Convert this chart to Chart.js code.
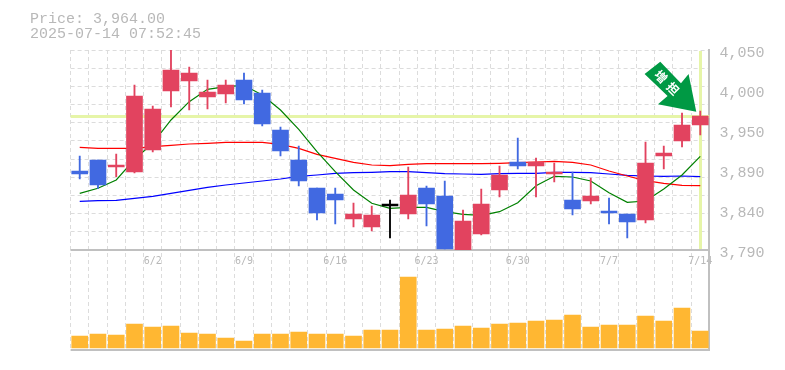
<!DOCTYPE html>
<html><head><meta charset="utf-8">
<script src="https://cdn.jsdelivr.net/npm/chart.js@4/dist/chart.umd.min.js"></script>
<style>
html,body{margin:0;padding:0;background:#fff;width:785px;height:370px;overflow:hidden}
#wrap{position:relative;width:785px;height:370px}
#head{position:absolute;left:30px;top:12px;font:15px/15px "Liberation Mono",monospace;font-weight:normal;color:#b8b8b8;white-space:pre}
</style></head><body>
<div id="wrap"><canvas id="c" width="785" height="370"></canvas>
<div id="head">Price: 3,964.00
2025-07-14 07:52:45</div></div>
<script>
const categories=['5/27','5/28','5/29','5/30','6/2','6/3','6/4','6/5','6/6','6/9','6/10','6/11','6/12','6/13','6/16','6/17','6/18','6/19','6/20','6/23','6/24','6/25','6/26','6/27','6/30','7/1','7/2','7/3','7/4','7/7','7/8','7/9','7/10','7/11','7/14'];
const opens=[3892.7,3907,3897.9,3891.4,3920,3996.7,4009.7,3988.9,3992.8,4011,3994.1,3946,3907,3870.6,3862.8,3830.3,3819.9,3847.2,3836.8,3870.6,3860.2,3790,3810.8,3868,3904.4,3899.2,3888.8,3855,3853.7,3840.7,3836.8,3829,3912.2,3931.7,3952.5];
const closes=[3888.8,3874.5,3900.5,3990.2,3973.3,4024,4020.1,3995.4,4004.5,3985,3953.8,3918.7,3879.7,3838.1,3855,3836.8,3835.5,3847.2,3861.5,3849.8,3791.3,3827.7,3849.8,3887.5,3899.2,3904.4,3891.4,3843.3,3860.2,3838.1,3826.4,3903.1,3916.1,3952.5,3964.2];
const highs=[3912,3907,3914.8,4004.5,3977.2,4050,4027.9,4011,4011,4020.1,3998,3949.9,3925.2,3870.6,3870.6,3851.1,3847.2,3855,3897.9,3873.2,3879.7,3842,3869.3,3899.2,3935.6,3909.6,3903.1,3891.4,3883.6,3857.6,3836.8,3930.4,3925.2,3968.1,3970.7];
const lows=[3882.3,3870.2,3885.3,3890.1,3917.4,3975.9,3972,3973.3,3981.1,3979.8,3951.2,3912.2,3873.2,3829,3823.8,3819.9,3814.7,3805.6,3830.3,3821.2,3791.3,3789,3809.5,3859,3895.3,3859,3878.4,3835.5,3849.8,3823.8,3805.6,3825.1,3895.3,3923.9,3939.5];
const maShort=[3863.7,3870.2,3881,3907.9,3928.7,3959,3982.8,3998.9,4002.3,4004.1,3991.5,3972,3946.9,3917.8,3891.8,3868,3850.7,3844.2,3845.5,3845.5,3839.8,3836.4,3835.1,3839.8,3851.5,3873.6,3885.8,3884.9,3879.7,3864.5,3852,3853.7,3869.3,3887.5,3911.8];
const maMid=[3923.5,3922.2,3922.2,3922.2,3924.3,3926.1,3927.8,3928.7,3930,3930,3930,3927.4,3922.2,3914.4,3909.2,3904,3900.5,3899.6,3901.4,3902.2,3902.2,3902.2,3902.2,3902.7,3903.5,3904.4,3905.3,3904,3900.5,3892.7,3886.2,3880.1,3876.7,3874.1,3873.6];
const maLong=[3853.3,3854.1,3854.6,3857.2,3859.8,3863.7,3867.6,3871.5,3874.5,3877.1,3879.7,3882.3,3885.8,3887.5,3889.7,3890.5,3891,3891.8,3891.8,3890.5,3889.2,3888.8,3888.4,3889.2,3889.7,3889.7,3891,3891,3890.5,3888.8,3887.1,3886.2,3885.8,3886.2,3885.3];
const volumes=[12000,14000,13000,24000,21000,22000,15000,14000,10000,7000,14000,14000,16000,14000,14000,12000,18000,18000,71000,18000,19000,22000,20000,24000,25000,27000,28000,33000,21000,23000,23000,32000,27000,40000,17000];
const xTickLabels=['6/2','6/9','6/16','6/23','6/30','7/7','7/14'];
const priceLabelTicks=[4050,3998,3946,3894,3842,3790];
const priceLabelText=['4,050','4,000','3,950','3,890','3,840','3,790'];
const priceGridTicks=[4050,4026.36,4002.73,3979.09,3955.45,3931.82,3908.18,3884.55,3860.91,3837.27,3813.64,3790];
const lastPrice=3964;
const arrowLabel='増担';

const RED='#e2435f',BLUE='#4169e1',GRID='#dcdcdc',AXIS='#c0c0c0',HILITE='#e6f5a8',TEXT='#b8b8b8';
const candleColor=i=>closes[i]>opens[i]?RED:closes[i]<opens[i]?BLUE:'#000000';
const colors=categories.map((_,i)=>candleColor(i));

const overlay={
  id:'overlay',
  beforeDatasetsDraw(ch){
    const {ctx,chartArea:a,scales:{x,y}}=ch;
    ctx.save();ctx.fillStyle=HILITE;
    ctx.fillRect(a.left,Math.round(y.getPixelForValue(lastPrice))-1,a.right-a.left,3);
    ctx.fillRect(Math.round(x.getPixelForValue(categories.length-1))-1,y.top+1,3,y.bottom-y.top-2);
    ctx.restore();
  },
  afterDatasetsDraw(ch){
    const {ctx,scales:{x,y}}=ch;
    const tx=x.getPixelForValue(categories.length-1)-4, ty=y.getPixelForValue(lastPrice)-4.5;
    const pts=[[-36,-50],[-15.3,-28.4],[-7.7,-37.7],[0,0],[-38.3,-7.4],[-28.7,-15.7],[-51.7,-37.7]];
    ctx.save();ctx.fillStyle='#009944';ctx.beginPath();
    pts.forEach((p,i)=>i?ctx.lineTo(tx+p[0],ty+p[1]):ctx.moveTo(tx+p[0],ty+p[1]));
    ctx.closePath();ctx.fill();
    ctx.translate(tx-29,ty-28.7);ctx.rotate(Math.PI/4);
    ctx.fillStyle='#fff';ctx.font='bold 12px "Noto Sans CJK JP"';
    ctx.letterSpacing='5px';
    ctx.textAlign='center';ctx.textBaseline='middle';
    ctx.fillText(arrowLabel,2,0);
    ctx.restore();
  }
};

new Chart(document.getElementById('c'),{
  data:{labels:categories,datasets:[
    {type:'bar',label:'Body',data:categories.map((_,i)=>[opens[i],closes[i]]),backgroundColor:colors,barThickness:16,minBarLength:2,grouped:false,order:1,yAxisID:'y',xAxisID:'x'},
    {type:'bar',label:'Wick',data:categories.map((_,i)=>[lows[i],highs[i]]),backgroundColor:colors,barThickness:1.2,grouped:false,order:2,yAxisID:'y',xAxisID:'x'},
    {type:'line',label:'MA short',data:maShort,borderColor:'#008000',borderWidth:1.2,pointRadius:0,tension:0,order:3,yAxisID:'y'},
    {type:'line',label:'MA mid',data:maMid,borderColor:'#ff0000',borderWidth:1.2,pointRadius:0,tension:0,order:4,yAxisID:'y'},
    {type:'line',label:'MA long',data:maLong,borderColor:'#0000ff',borderWidth:1.2,pointRadius:0,tension:0,order:4,yAxisID:'y'},
    {type:'bar',label:'Volume',data:volumes,backgroundColor:'#ffb732',barThickness:16,grouped:false,order:5,yAxisID:'yVol'}
  ]},
  plugins:[overlay],
  options:{
    responsive:false,animation:false,
    layout:{padding:{left:70.6,top:50,right:0,bottom:0}},
    plugins:{legend:{display:false},tooltip:{enabled:false},title:{display:false}},
    scales:{
      x:{type:'category',offset:true,
        grid:{offset:true,color:GRID,drawTicks:false,tickLength:0},
        border:{display:false,dash:[4,3]},
        ticks:{autoSkip:false,maxRotation:0,minRotation:0,mirror:true,padding:83,color:TEXT,
          font:{family:'"DejaVu Sans Mono"',size:10},
          callback(v){const l=this.getLabelForValue(v);return xTickLabels.includes(l)?l:'';}},
        afterFit(s){s.height=20;s.paddingLeft=0;s.paddingRight=0;}
      },
      y:{type:'linear',position:'right',min:3790,max:4050,stack:'panes',stackWeight:2,
        afterBuildTicks(s){s.ticks=[...new Set([...priceGridTicks,...priceLabelTicks])].sort((a,b)=>b-a).map(value=>({value}));},
        grid:{color:c=>priceGridTicks.includes(c.tick.value)?GRID:'rgba(0,0,0,0)',drawTicks:false,tickLength:0},
        border:{display:true,color:AXIS,width:2,dash:[4,3]},
        ticks:{autoSkip:false,padding:10,crossAlign:'near',labelOffset:3,color:TEXT,
          font:{family:'"Liberation Mono"',size:15},
          callback(v){const k=priceLabelTicks.indexOf(v);return k<0?'':priceLabelText[k];}},
        afterFit(s){s.width=75.6;s.paddingTop=0;s.paddingBottom=0;}
      },
      yVol:{type:'linear',position:'right',min:-2000,max:98000,stack:'panes',stackWeight:1,
        afterBuildTicks(s){s.ticks=[{value:98000},{value:-2000}];},
        grid:{color:AXIS,lineWidth:2,drawTicks:false,tickLength:0},
        border:{display:true,color:AXIS,width:2},
        ticks:{display:false},
        afterFit(s){s.width=75.6;}
      }
    }
  }
});
</script></body></html>
